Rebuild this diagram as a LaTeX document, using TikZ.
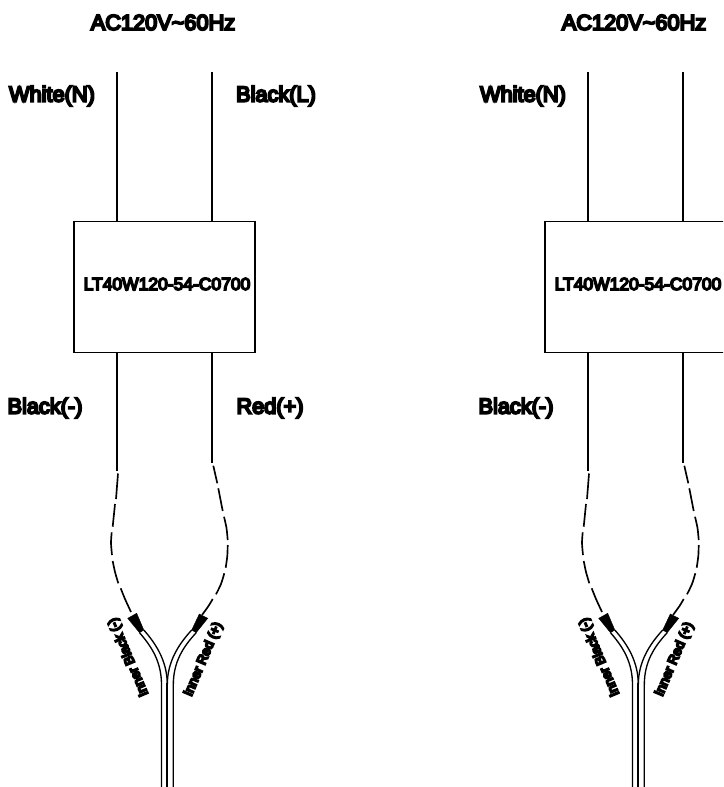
\documentclass[tikz,border=0pt]{standalone}
\usepackage{fontspec}
\setmainfont{Liberation Sans}[FakeBold=9]
\newfontfamily\heavyfont{Liberation Sans}[FakeBold=14]
\tikzset{
  wire/.style={line width=1.1pt,line cap=butt,black},
  brokenwire/.style={line width=1.25pt,line cap=butt,black},
  cable/.style={line width=1pt,black},
  midcable/.style={line width=1.5pt,black},
  lbl/.style={inner sep=0pt,font=\fontsize{16.3}{18}\selectfont,text=black},
  partlbl/.style={inner sep=0pt,font=\fontsize{13.1}{16}\selectfont,text=black},
  innerlbl/.style={inner sep=0pt,font=\heavyfont\fontsize{10}{12}\selectfont,text=black},
  drvbox/.style={draw=black,line width=1pt,inner sep=0pt,minimum width=135.75pt,minimum height=98pt},
  wedge/.style={fill=black,draw=black,line width=.3pt},
}
\newcommand{\WireSet}[1]{%
  \begin{scope}[shift={(#1,0)}]
    \node[lbl] (title) at (163,22.5) {AC120V\textasciitilde 60Hz};
    \node[lbl] (white) at (52,96) {White(N)};
    \node[lbl] (blackm) at (45,408) {Black(-)};
    \node[drvbox] (box) at (164.5,287) {};
    \node[partlbl] (part) at (167,284) {LT40W120-54-C0700};
    \coordinate (tn) at (117,72);
    \coordinate (tl) at (212,72);
    \coordinate (bn) at (117,470.5);
    \coordinate (bl) at (212,462.5);
    \draw[wire] (tn) -- (tn |- box.north);
    \draw[wire] (tl) -- (tl |- box.north);
    \draw[wire] (bn |- box.south) -- (bn);
    \draw[wire] (bl |- box.south) -- (bl);
    % broken leads, left
    \draw[brokenwire] (118,473.5) -- (116,499);
    \draw[brokenwire] (115,504) -- (112.7,526.7);
    \draw[brokenwire] plot[smooth] coordinates {(111.7,532.3) (111,543) (112,555)};
    \draw[brokenwire] plot[smooth] coordinates {(112.7,561) (115,572) (118.3,583.3)};
    \draw[brokenwire] plot[smooth] coordinates {(120.7,588.3) (125,599) (131,612)};
    % broken leads, right
    \draw[brokenwire] (213.3,465.7) -- (217.3,483.3);
    \draw[brokenwire] (218.3,488.3) -- (222.7,511);
    \draw[brokenwire] plot[smooth] coordinates {(224,516.7) (226.5,528) (227.7,540)};
    \draw[brokenwire] plot[smooth] coordinates {(227.7,545) (227.3,556) (225.7,567.7)};
    \draw[brokenwire] plot[smooth] coordinates {(224.3,573.3) (221,584) (216,594.3)};
    \draw[brokenwire] plot[smooth] coordinates {(212.7,599) (208.5,606) (202,615)};
    % ferrules
    \coordinate (la) at (127.7,618.3);
    \coordinate (lb) at (136.7,613.3);
    \coordinate (lc) at (143.8,630);
    \coordinate (ld) at (139.5,632.7);
    \coordinate (ra) at (199.3,614);
    \coordinate (rb) at (207.7,618.3);
    \coordinate (rc) at (196.2,632.7);
    \coordinate (rd) at (191.7,630);
    \draw[wedge] (la) -- (lb) -- (lc) -- (ld) -- cycle;
    \draw[wedge] (ra) -- (rb) -- (rc) -- (rd) -- cycle;
    % jacket
    \coordinate (v1) at (161.5,787);
    \coordinate (v2) at (167.3,787);
    \coordinate (v3) at (173.3,787);
    \draw[cable] (ld) .. controls (152,647) and (161.5,662) .. (161.5,685) -- (v1);
    \draw[cable] (lc) .. controls (157,645) and (167.3,662) .. (167.3,685);
    \draw[cable] (rd) .. controls (178,645) and (167.3,662) .. (167.3,685);
    \draw[midcable] (167.3,683) -- (v2);
    \draw[cable] (rc) .. controls (183,647) and (173.3,662) .. (173.3,685) -- (v3);
    \node[innerlbl,rotate=113] (ib) at (128.8,657) {Inner Black (-)};
    \node[innerlbl,rotate=67] (ir) at (203.5,659.3) {Inner Red (+)};
  \end{scope}}
\begin{document}
\begin{tikzpicture}[x=.75pt,y=-.75pt]
  \useasboundingbox (0,0) rectangle (723,787);
  \clip (0,0) rectangle (723,787);
  \WireSet{0}
  \node[lbl] (blackl) at (276,96) {Black(L)};
  \node[lbl] (redp) at (270,408) {Red(+)};
  \WireSet{471}
\end{tikzpicture}
\end{document}
